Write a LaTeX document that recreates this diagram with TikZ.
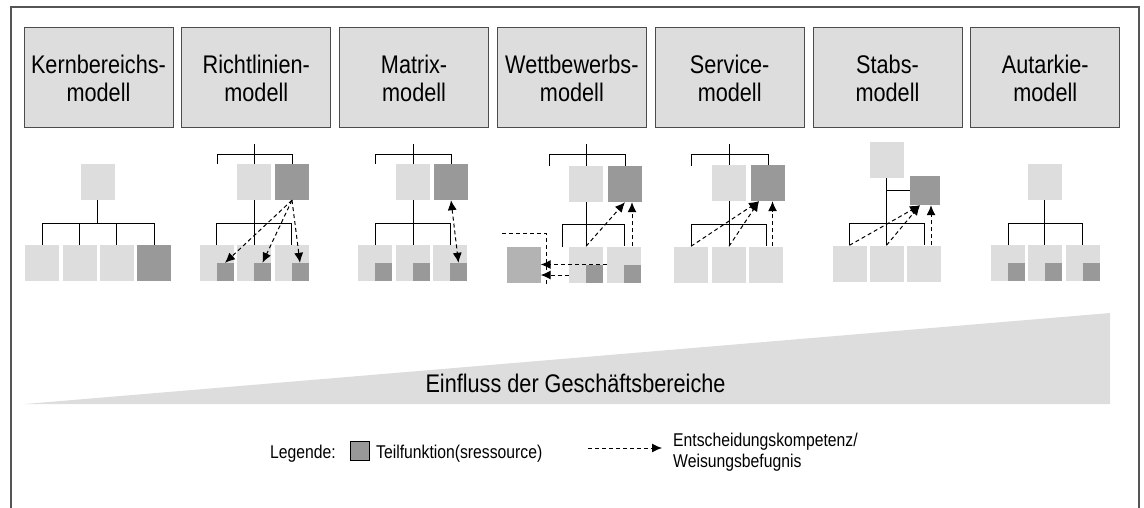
\documentclass[tikz,border=0pt]{standalone}
\usepackage{fontspec}
\setmainfont{Liberation Sans}[FakeStretch=0.85]
\usetikzlibrary{arrows.meta}

\definecolor{boxgray}{HTML}{DDDDDD}
\definecolor{sharegray}{HTML}{999999}
\definecolor{outgray}{HTML}{B3B3B3}
\definecolor{framegray}{HTML}{555555}

\begin{document}
\begin{tikzpicture}[x=1pt, y=-1pt, >={Latex[length=10pt,width=9pt]},
    head/.style={draw=black!70, line width=1pt, fill=boxgray, minimum width=149pt,
      minimum height=100pt, inner sep=0pt, align=center, font=\fontsize{25.5}{28}\selectfont},
    dept/.style={fill=boxgray, minimum width=34pt, minimum height=36pt, inner sep=0pt},
    core/.style={dept, fill=sharegray},
    share/.style={fill=sharegray, minimum width=17pt, minimum height=18pt, inner sep=0pt, anchor=south east},
    reports/.style={line width=1pt},
    directs/.style={line width=1pt, dash pattern=on 4pt off 3pt, ->},
    fence/.style={line width=1pt, dash pattern=on 4pt off 3pt},
    legend/.style={font=\fontsize{18.5}{21}\selectfont, inner sep=0pt, align=left},
  ]
  \useasboundingbox (0,0) rectangle (1144,508);
  \draw[framegray, line width=1.5pt] (11,508) -- (11,7) -- (1139,7) -- (1139,508);

  % model headers
  \foreach \model [count=\i from 0] in {Kernbereichs-,Richtlinien-,Matrix-,Wettbewerbs-,Service-,Stabs-,Autarkie-}
    \node[head] (h\i) at ({98.5+157.8*\i},78) {\model\\modell};

  % Kernbereichsmodell
  \node[dept] (k0) at (97.5,182) {};
  \node[dept] (k1) at (42,263) {};
  \node[dept] (k2) at (79.5,263) {};
  \node[dept] (k3) at (116.5,263) {};
  \node[core] (k4) at (154,263) {};
  \coordinate (kbar) at (97.5,223);
  \draw[reports] (k0) -- (kbar);
  \draw[reports] (k1.north) -- (k1 |- kbar) -- (k4 |- kbar) -- (k4.north);
  \draw[reports] (k2.north) -- (k2 |- kbar) (k3.north) -- (k3 |- kbar);

  % Richtlinienmodell
  \node[dept] (rl) at (254,182) {};
  \node[core] (rd) at (292,182) {};
  \node[dept] (r1) at (216.5,263) {};
  \node[dept] (r2) at (254,263) {};
  \node[dept] (r3) at (291.5,263) {};
  \node[share] (r1s) at (r1.south east) {};
  \node[share] (r2s) at (r2.south east) {};
  \node[share] (r3s) at (r3.south east) {};
  \coordinate (rtop) at (254,144);
  \coordinate (rhub) at (254,155);
  \coordinate (rend) at (217,164);
  \coordinate (rbar) at (254,223);
  \draw[reports] (rtop) -- (rl);
  \draw[reports] (rend) -- (rend |- rhub) -| (rd.north);
  \draw[reports] (rl) -- (r2);
  \draw[reports] (r1.north) -- (r1 |- rbar) -- (r3 |- rbar) -- (r3.north);
  \draw[directs] (rd.south) -- (r1s.north);
  \draw[directs] (rd.south) -- (r2s.north);
  \draw[directs] (rd.south) -- (r3s.north);

  % Matrixmodell
  \node[dept] (ml) at (413,182) {};
  \node[core] (md) at (451,182) {};
  \node[dept] (m1) at (375,263) {};
  \node[dept] (m2) at (413,263) {};
  \node[dept] (m3) at (450,263) {};
  \node[share] (m1s) at (m1.south east) {};
  \node[share] (m2s) at (m2.south east) {};
  \node[share] (m3s) at (m3.south east) {};
  \coordinate (mtop) at (413,144);
  \coordinate (mhub) at (413,155);
  \coordinate (mend) at (375,164);
  \coordinate (mbar) at (413,223);
  \draw[reports] (mtop) -- (ml);
  \draw[reports] (mend) -- (mend |- mhub) -| (md.north);
  \draw[reports] (ml) -- (m2);
  \draw[reports] (m1.north) -- (m1 |- mbar) -- (m3 |- mbar) -- (m3.north);
  \draw[directs, <->] (md.south) -- (m3s.north);

  % Wettbewerbsmodell
  \node[dept] (wl) at (586,184) {};
  \node[core] (wd) at (625,184) {};
  \node[dept] (w2) at (586,264.5) {};
  \node[dept] (w3) at (624,264.5) {};
  \node[dept, fill=outgray] (wo) at (523.5,264.5) {};
  \node[share] (w2s) at (w2.south east) {};
  \node[share] (w3s) at (w3.south east) {};
  \coordinate (wtop) at (586,144);
  \coordinate (whub) at (586,155);
  \coordinate (wend) at (549,166);
  \coordinate (wbar) at (586,224);
  \coordinate (wgap) at (562,247);
  \draw[reports] (wtop) -- (wl);
  \draw[reports] (wend) -- (wend |- whub) -| (wd.north);
  \draw[reports] (wl) -- (w2);
  \draw[reports] (wgap) -- (wgap |- wbar) -- (w3 |- wbar) -- (w3.north);
  \draw[fence] (502,233) -| (546,285);
  \coordinate (w2in) at ([yshift=-10.5pt]w2.west);
  \draw[directs] (w3.west) -- (w3.west -| wo.east);
  \draw[directs] (w2in) -- (w2in -| wo.east);
  \draw[directs] (w2.north) -- (wd.south);
  \draw[directs] ([xshift=8pt]w3.north) -- ([xshift=7pt]wd.south);

  % Servicemodell
  \node[dept] (sl) at (729,183) {};
  \node[core] (sd) at (768,183) {};
  \node[dept] (s1) at (691,264.5) {};
  \node[dept] (s2) at (729,264.5) {};
  \node[dept] (s3) at (766,264.5) {};
  \coordinate (stop) at (729,144);
  \coordinate (shub) at (729,155);
  \coordinate (send) at (691,166);
  \coordinate (sbar) at (729,224);
  \draw[reports] (stop) -- (sl);
  \draw[reports] (send) -- (send |- shub) -| (sd.north);
  \draw[reports] (sl) -- (s2);
  \draw[reports] (s1.north) -- (s1 |- sbar) -- (s3 |- sbar) -- (s3.north);
  \coordinate (sin) at ([xshift=-9pt]sd.south);
  \draw[directs] (s1.north) -- (sin);
  \draw[directs] (s2.north) -- (sin);
  \draw[directs] ([xshift=6.5pt]s3.north) -- ([xshift=4.5pt]sd.south);

  % Stabsmodell
  \node[dept] (t0) at (886.5,160) {};
  \node[core, minimum width=30pt, minimum height=29pt] (td) at (925,190.5) {};
  \node[dept] (t1) at (849.5,263.5) {};
  \node[dept] (t2) at (886.5,263.5) {};
  \node[dept] (t3) at (924,263.5) {};
  \coordinate (tbar) at (886.5,223);
  \draw[reports] (t0) -- (t2);
  \draw[reports] (td.west) -- (td.west -| t0);
  \draw[reports] (t1.north) -- (t1 |- tbar) -- (t3 |- tbar) -- (t3.north);
  \coordinate (tin) at ([xshift=-5pt]td.south);
  \draw[directs] (t1.north) -- (tin);
  \draw[directs] (t2.north) -- (tin);
  \draw[directs] ([xshift=7pt]t3.north) -- ([xshift=6pt]td.south);

  % Autarkiemodell
  \node[dept] (a0) at (1044.5,182) {};
  \node[dept] (a1) at (1008,263) {};
  \node[dept] (a2) at (1044.5,263) {};
  \node[dept] (a3) at (1082.5,263) {};
  \node[share] (a1s) at (a1.south east) {};
  \node[share] (a2s) at (a2.south east) {};
  \node[share] (a3s) at (a3.south east) {};
  \coordinate (abar) at (1044.5,223);
  \draw[reports] (a0) -- (a2);
  \draw[reports] (a1.north) -- (a1 |- abar) -- (a3 |- abar) -- (a3.north);

  % Einfluss-Keil
  \fill[boxgray] (25,404) -- (1110,313) -- (1110,404) -- cycle;
  \node[font=\fontsize{25.5}{28}\selectfont, anchor=base, inner sep=0pt] (infl) at (575.5,392) {Einfluss der Geschäftsbereiche};

  % Legende
  \node[legend, anchor=base west] (leg) at (270,458) {Legende:};
  \node[draw, line width=1pt, fill=sharegray, minimum size=19pt, inner sep=0pt] (key) at (359.5,450.5) {};
  \node[legend, anchor=base west] (keytext) at (376,458) {Teilfunktion(sressource)};
  \node[legend, anchor=base west] (arrtext) at (673,467) {Entscheidungskompetenz/\\Weisungsbefugnis};
  \coordinate (arrfrom) at (588,448);
  \draw[directs] (arrfrom) -- ++(74,0);
\end{tikzpicture}
\end{document}
